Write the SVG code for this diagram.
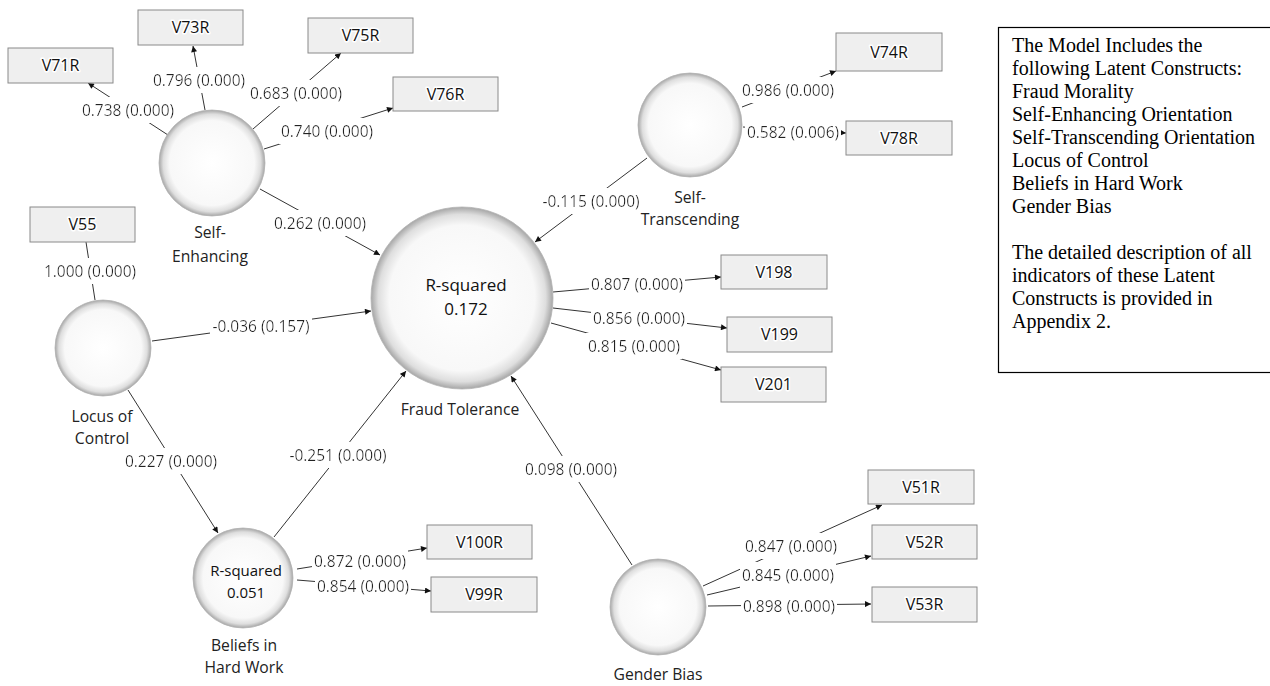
<svg xmlns="http://www.w3.org/2000/svg" width="1270" height="686" viewBox="0 0 1270 686">
<style>
.ind rect{fill:#efefef;stroke:#8a8a8a;stroke-width:1}
.ind text{font-family:"Open Sans","Noto Sans",sans-serif;font-size:16px;fill:#111;text-anchor:middle;stroke:#fff;stroke-width:3;paint-order:stroke;stroke-linejoin:round}
.lat circle{fill:url(#sph);stroke:#b4b4b4;stroke-width:0.8}
.lab{font-family:"Open Sans","Noto Sans",sans-serif;font-size:15.7px;fill:#222;text-anchor:middle}
.rsq{font-family:"Open Sans","Noto Sans",sans-serif;fill:#111;text-anchor:middle}
#conn line{stroke:#333;stroke-width:1}
#conn line.a{marker-end:url(#ah)}
.val{font-family:"Open Sans","Noto Sans",sans-serif;font-size:15.5px;fill:#222;text-anchor:middle;filter:url(#bg)}
.note{font-family:"Liberation Serif","Times New Roman",serif;font-size:20px;fill:#000}
</style>
<defs>
<radialGradient id="sph" cx="50%" cy="50%" r="50%">
<stop offset="0" stop-color="#ffffff"/>
<stop offset="0.80" stop-color="#f8f8f8"/>
<stop offset="0.92" stop-color="#dedede"/>
<stop offset="1" stop-color="#a6a6a6"/>
</radialGradient>
<filter id="bg" x="-0.02" y="-0.08" width="1.04" height="1.16">
<feFlood flood-color="#ffffff"/>
<feComposite in="SourceGraphic"/>
</filter>
<marker id="ah" viewBox="0 0 10 10" refX="10" refY="5" markerWidth="7" markerHeight="6" markerUnits="userSpaceOnUse" orient="auto">
<path d="M0,0 L10,5 L0,10 z" fill="#111"/>
</marker>
</defs>
<rect width="1270" height="686" fill="#fff"/>

<g id="conn">
<line class="a" x1="168" y1="135" x2="88" y2="83"/>
<line class="a" x1="205" y1="110" x2="193" y2="46"/>
<line class="a" x1="253" y1="129" x2="341" y2="53"/>
<line class="a" x1="264" y1="149" x2="393" y2="108"/>
<line class="a" x1="260" y1="189" x2="380" y2="255"/>
<line x1="86" y1="242" x2="95" y2="300"/>
<line class="a" x1="152" y1="341" x2="371" y2="311"/>
<line class="a" x1="128" y1="390" x2="218" y2="533"/>
<line class="a" x1="274" y1="537" x2="406" y2="371"/>
<line class="a" x1="297" y1="569" x2="427" y2="548"/>
<line class="a" x1="297" y1="580" x2="431" y2="591"/>
<line class="a" x1="647" y1="158" x2="535" y2="242"/>
<line class="a" x1="742" y1="107" x2="836" y2="71"/>
<line class="a" x1="743" y1="127" x2="846" y2="133"/>
<line class="a" x1="553" y1="292" x2="721" y2="277"/>
<line class="a" x1="553" y1="308" x2="727" y2="328"/>
<line class="a" x1="551" y1="323" x2="721" y2="370"/>
<line class="a" x1="632" y1="565" x2="511" y2="376"/>
<line class="a" x1="703" y1="586" x2="882" y2="505"/>
<line class="a" x1="707" y1="595" x2="871" y2="556"/>
<line class="a" x1="708" y1="606" x2="871" y2="604"/>

<text class="val" x="128" y="116">0.738 (0.000)</text>
<text class="val" x="199" y="86">0.796 (0.000)</text>
<text class="val" x="296" y="99">0.683 (0.000)</text>
<text class="val" x="327" y="137">0.740 (0.000)</text>
<text class="val" x="320" y="229">0.262 (0.000)</text>
<text class="val" x="90" y="277">1.000 (0.000)</text>
<text class="val" x="261" y="332">-0.036 (0.157)</text>
<text class="val" x="171" y="467">0.227 (0.000)</text>
<text class="val" x="338" y="461">-0.251 (0.000)</text>
<text class="val" x="360" y="567">0.872 (0.000)</text>
<text class="val" x="363" y="592">0.854 (0.000)</text>
<text class="val" x="591" y="207">-0.115 (0.000)</text>
<text class="val" x="788" y="96">0.986 (0.000)</text>
<text class="val" x="793" y="138">0.582 (0.006)</text>
<text class="val" x="637" y="290">0.807 (0.000)</text>
<text class="val" x="639" y="324">0.856 (0.000)</text>
<text class="val" x="634" y="352">0.815 (0.000)</text>
<text class="val" x="571" y="475">0.098 (0.000)</text>
<text class="val" x="791" y="552">0.847 (0.000)</text>
<text class="val" x="788" y="581">0.845 (0.000)</text>
<text class="val" x="789" y="612">0.898 (0.000)</text>
</g>

<g id="selfenh" class="lat"><circle cx="212" cy="163" r="53"/>
<text class="lab" x="210" y="238">Self-</text><text class="lab" x="210" y="262">Enhancing</text></g>
<g id="selftrans" class="lat"><circle cx="690" cy="125" r="52"/>
<text class="lab" x="690" y="203">Self-</text><text class="lab" x="690" y="225">Transcending</text></g>
<g id="fraud" class="lat"><circle cx="462" cy="298" r="91"/>
<text class="rsq" x="466" y="291" font-size="17">R-squared</text>
<text class="rsq" x="466" y="315" font-size="17">0.172</text>
<text class="lab" x="460" y="415">Fraud Tolerance</text></g>
<g id="locus" class="lat"><circle cx="103" cy="348" r="48"/>
<text class="lab" x="102" y="422">Locus of</text><text class="lab" x="102" y="444">Control</text></g>
<g id="beliefs" class="lat"><circle cx="243" cy="578" r="50"/>
<text class="rsq" x="246" y="576" font-size="15">R-squared</text>
<text class="rsq" x="246" y="598" font-size="15">0.051</text>
<text class="lab" x="244" y="651">Beliefs in</text><text class="lab" x="244" y="673">Hard Work</text></g>
<g id="gender" class="lat"><circle cx="658" cy="607" r="48"/>
<text class="lab" x="658" y="680">Gender Bias</text></g>

<g id="v71r" class="ind"><rect x="8" y="48" width="105" height="35"/><text x="60.5" y="71">V71R</text></g>
<g id="v73r" class="ind"><rect x="138" y="10" width="105" height="35"/><text x="190.5" y="33">V73R</text></g>
<g id="v75r" class="ind"><rect x="308" y="18" width="105" height="35"/><text x="360.5" y="41">V75R</text></g>
<g id="v76r" class="ind"><rect x="393" y="77" width="105" height="34"/><text x="445.5" y="100">V76R</text></g>
<g id="v55" class="ind"><rect x="30" y="207" width="105" height="35"/><text x="82.5" y="230">V55</text></g>
<g id="v74r" class="ind"><rect x="836" y="33" width="106" height="38"/><text x="889" y="58">V74R</text></g>
<g id="v78r" class="ind"><rect x="846" y="121" width="106" height="34"/><text x="899" y="144">V78R</text></g>
<g id="v198" class="ind"><rect x="721" y="255" width="106" height="34"/><text x="774" y="278">V198</text></g>
<g id="v199" class="ind"><rect x="727" y="317" width="105" height="35"/><text x="779.5" y="340">V199</text></g>
<g id="v201" class="ind"><rect x="721" y="367" width="105" height="35"/><text x="773.5" y="390">V201</text></g>
<g id="v100r" class="ind"><rect x="427" y="525" width="105" height="34"/><text x="479.5" y="548">V100R</text></g>
<g id="v99r" class="ind"><rect x="431" y="577" width="106" height="35"/><text x="484" y="600">V99R</text></g>
<g id="v51r" class="ind"><rect x="868" y="470" width="106" height="34"/><text x="921" y="493">V51R</text></g>
<g id="v52r" class="ind"><rect x="872" y="525" width="105" height="34"/><text x="924.5" y="548">V52R</text></g>
<g id="v53r" class="ind"><rect x="872" y="587" width="105" height="35"/><text x="924.5" y="610">V53R</text></g>

<g id="notebox">
<rect x="998.5" y="27.5" width="280" height="345" fill="#fff" stroke="#000" stroke-width="1.2"/>
<text class="note" x="1012" y="52">The Model Includes the</text>
<text class="note" x="1012" y="75">following Latent Constructs:</text>
<text class="note" x="1012" y="98">Fraud Morality</text>
<text class="note" x="1012" y="121">Self-Enhancing Orientation</text>
<text class="note" x="1012" y="144">Self-Transcending Orientation</text>
<text class="note" x="1012" y="167">Locus of Control</text>
<text class="note" x="1012" y="190">Beliefs in Hard Work</text>
<text class="note" x="1012" y="213">Gender Bias</text>
<text class="note" x="1012" y="259">The detailed description of all</text>
<text class="note" x="1012" y="282">indicators of these Latent</text>
<text class="note" x="1012" y="305">Constructs is provided in</text>
<text class="note" x="1012" y="328">Appendix 2.</text>
</g>
</svg>
